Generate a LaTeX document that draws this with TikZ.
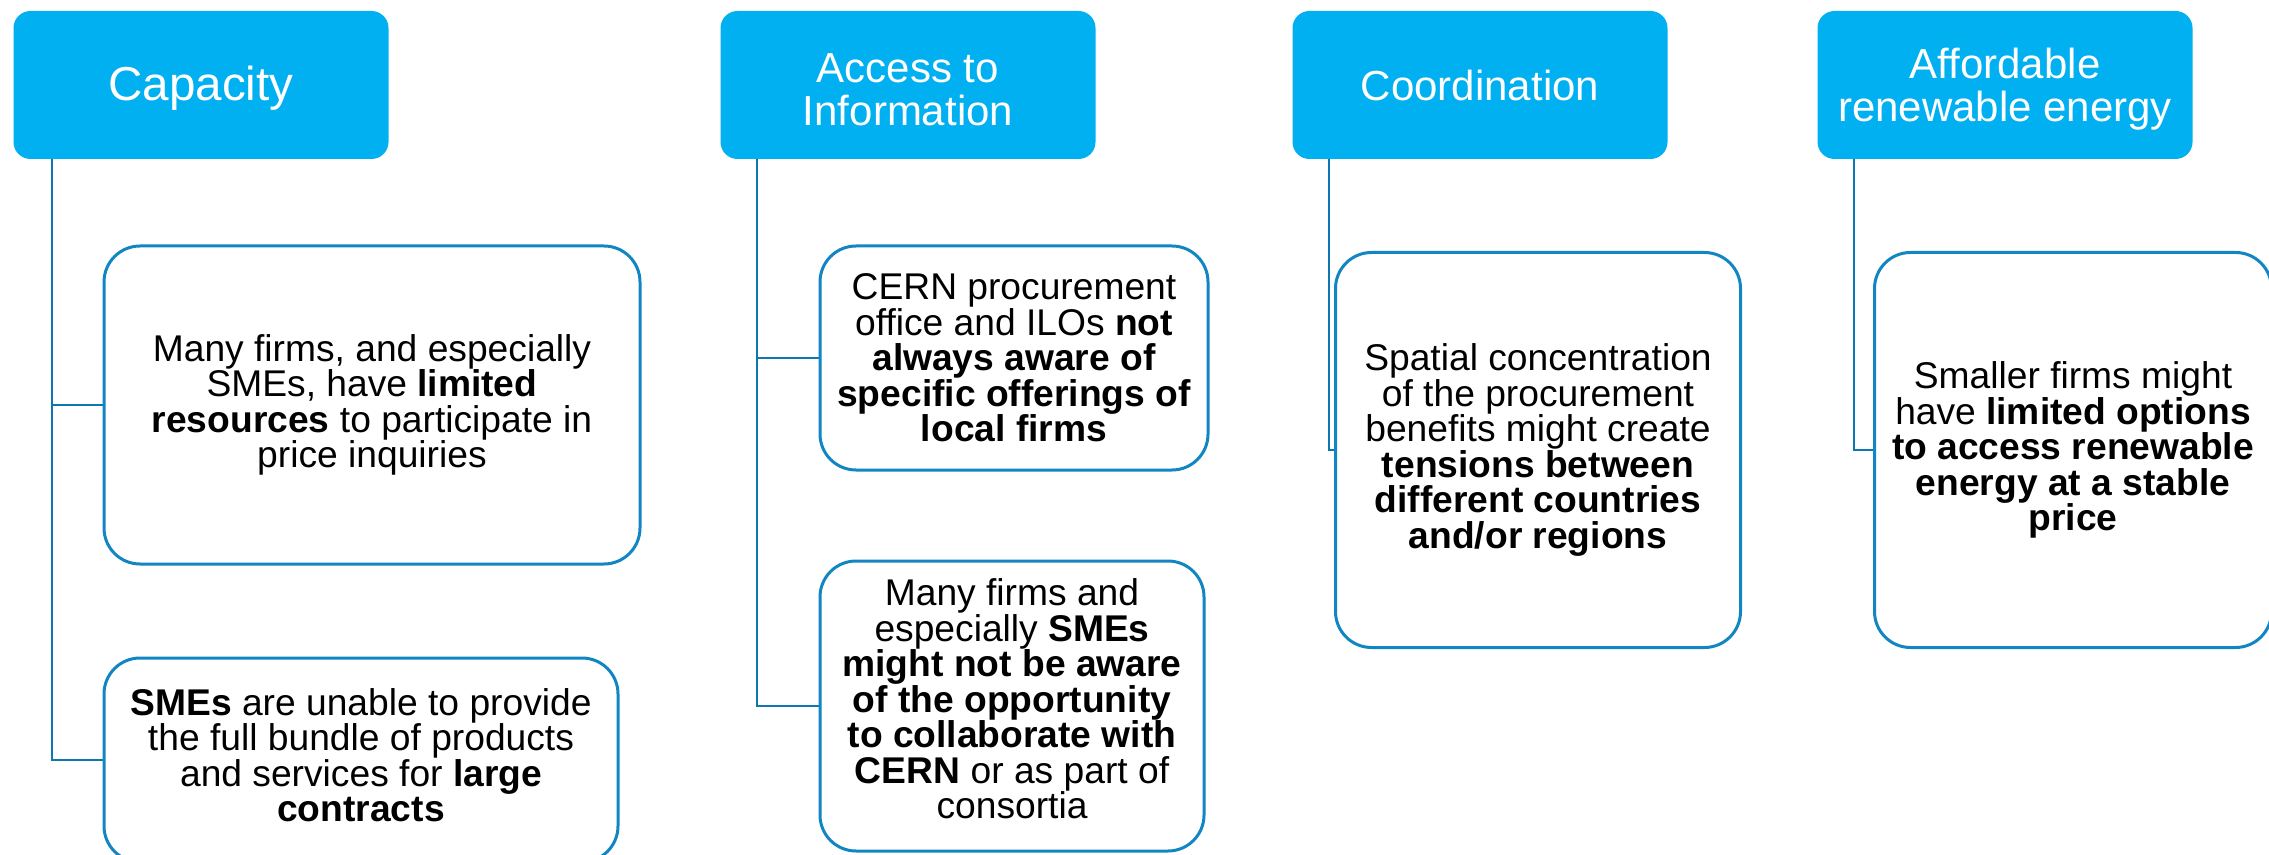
\documentclass[tikz,border=0pt]{standalone}
\usepackage{fontspec}
\setmainfont{Liberation Sans}
\usetikzlibrary{calc, positioning}
\definecolor{headblue}{RGB}{0,176,240}
\definecolor{lineblue}{RGB}{18,134,194}
\definecolor{linkblue}{RGB}{14,118,176}
% invisible struts that move a text block off the box centre
\newcommand{\padtop}[1]{\rule{0pt}{#1}}
\newcommand{\padbot}[1]{\rule[-#1]{0pt}{0pt}}

\begin{document}
\begin{tikzpicture}[% styles used in image code
   x = 0.5pt, y = -0.5pt,
head/.style = {fill=headblue, text=white, rounded corners=8.5pt,
               minimum width=187.5pt, minimum height=74pt,
               inner sep=0pt, align=center,
               font=\fontsize{21}{21.5}\selectfont},
item/.style args = {#1/#2}{draw=lineblue, line width=1.5pt, fill=white,
               rounded corners=18pt, inner sep=0pt, align=center,
               minimum width=#1*0.5pt, minimum height=#2*0.5pt,
               font=\fontsize{18.6}{17.75}\selectfont},
link/.style = {draw=linkblue, line width=1.25pt}
                    ]
	% page, margins included
	\useasboundingbox (0,0) rectangle (2269,855);
	\clip (0,0) rectangle (2269,855);

	% headers
	\node[head, font=\fontsize{23.8}{24}\selectfont] (cap) at (201,85)
		{\padtop{20.4pt}Capacity};
	\node[head] (acc) at (908,85) {\padtop{19.4pt}Access to\\Information};
	\node[head] (coo) at (1480,85) {Coordination};
	\node[head] (aff) at (2005,85)
		{\padtop{19.4pt}Affordable\\renewable energy};

	% boxes
	\node[item=536/318] (cap1) at (372,405)
		{Many firms, and especially\\SMEs, have \textbf{limited}\\
		 \textbf{resources} to participate in\\price inquiries};
	\node[item=514/204] (cap2) at (361,760)
		{\textbf{SMEs} are unable to provide\\the full bundle of products\\
		 and services for \textbf{large}\\\textbf{contracts}\padbot{5pt}};
	\node[item=388/224] (acc1) at (1014,358)
		{CERN procurement\\office and ILOs \textbf{not}\\
		 \textbf{always aware of}\\\textbf{specific offerings of}\\
		 \textbf{local firms}};
	\node[item=384/290] (acc2) at (1012,706)
		{Many firms and\\especially \textbf{SMEs}\\
		 \textbf{might not be aware}\\\textbf{of the opportunity}\\
		 \textbf{to collaborate with}\\\textbf{CERN} or as part of\\
		 consortia\padbot{7pt}};
	\node[item=405/395] (coo1) at (1538,450)
		{Spatial concentration\\of the procurement\\benefits might create\\
		 \textbf{tensions between}\\\textbf{different countries}\\
		 \textbf{and/or regions}};
	\node[item=397/395] (aff1) at (2073,450)
		{Smaller firms might\\have \textbf{limited options}\\
		 \textbf{to access renewable}\\\textbf{energy at a stable}\\
		 \textbf{price}};

	% connectors
	\draw[link] ($(cap.south west)+(39,0)$) |- (cap1.west);
	\draw[link] ($(cap.south west)+(39,0)$) |- (cap2.west);
	\draw[link] ($(acc.south west)+(37,0)$) |- (acc1.west);
	\draw[link] ($(acc.south west)+(37,0)$) |- (acc2.west);
	\draw[link] ($(coo.south west)+(37,0)$) |- (coo1.west);
	\draw[link] ($(aff.south west)+(37,0)$) |- (aff1.west);
\end{tikzpicture}
\end{document}
